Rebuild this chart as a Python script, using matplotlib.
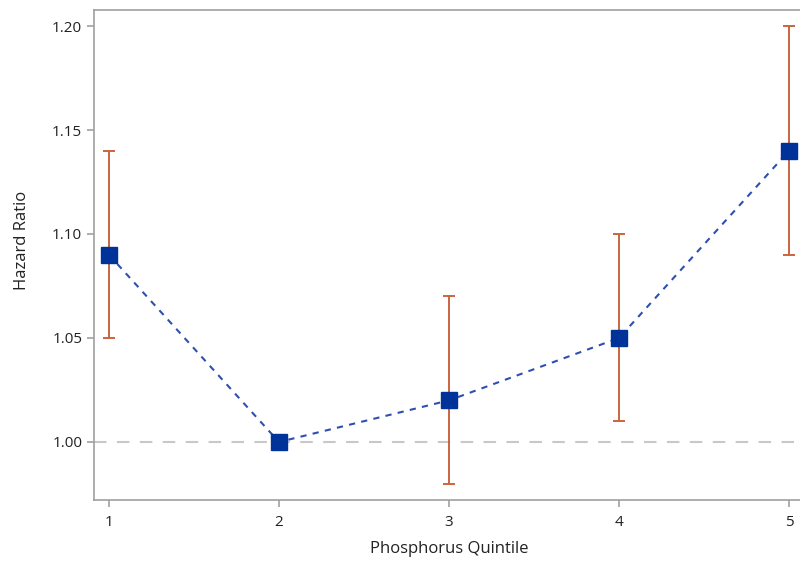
import numpy as np
import matplotlib
matplotlib.use('Agg')
import matplotlib.pyplot as plt

# Hazard ratios by phosphorus quintile
quintiles = [1, 2, 3, 4, 5]
hr = [1.09, 1.00, 1.02, 1.05, 1.14]
lower = [1.05, 1.00, 0.98, 1.01, 1.09]
upper = [1.14, 1.00, 1.07, 1.10, 1.20]
yticks = [1.00, 1.05, 1.10, 1.15, 1.20]

plt.rcParams['font.family'] = ['Open Sans', 'DejaVu Sans']

fig = plt.figure(figsize=(8, 5.63), dpi=100)
ax = fig.add_axes([94 / 800, 63 / 563, 710 / 800, 490 / 563])

hr = np.array(hr)
yerr = [hr - np.array(lower), np.array(upper) - hr]

ax.axhline(1.0, color='#c8c8c8', lw=1.5, ls=(0, (6, 5)), zorder=1)
ax.errorbar(quintiles, hr, yerr=yerr, fmt='none', ecolor='#c9653e',
            elinewidth=1.4, capsize=4.5, capthick=1.4, zorder=2)
ax.plot(quintiles, hr, ls=(0, (3, 3)), color='#2f4fb0', lw=1.5, zorder=3)
ax.plot(quintiles, hr, ls='none', marker='s', ms=11.5, color='#003399',
        mec='#003399', zorder=4)

ax.set_xlim(0.912, 5.088)
ax.set_ylim(0.9721, 1.2077)
ax.set_xticks(quintiles)
ax.set_yticks(yticks)
ax.set_yticklabels(['{:.2f}'.format(v) for v in yticks])

for s in ax.spines.values():
    s.set_color('#a0a0a0')
    s.set_linewidth(1.2)
ax.tick_params(colors='#a0a0a0', labelcolor='#222222', labelsize=11,
               length=5, width=1.2)
ax.tick_params(axis='x', pad=6)

ax.set_xlabel('Phosphorus Quintile', fontsize=12, color='#222222', labelpad=8)
ax.set_ylabel('Hazard Ratio', fontsize=12, color='#222222')
ax.yaxis.set_label_coords(-0.09, 0.53)

fig.savefig('out.png', dpi=100)
